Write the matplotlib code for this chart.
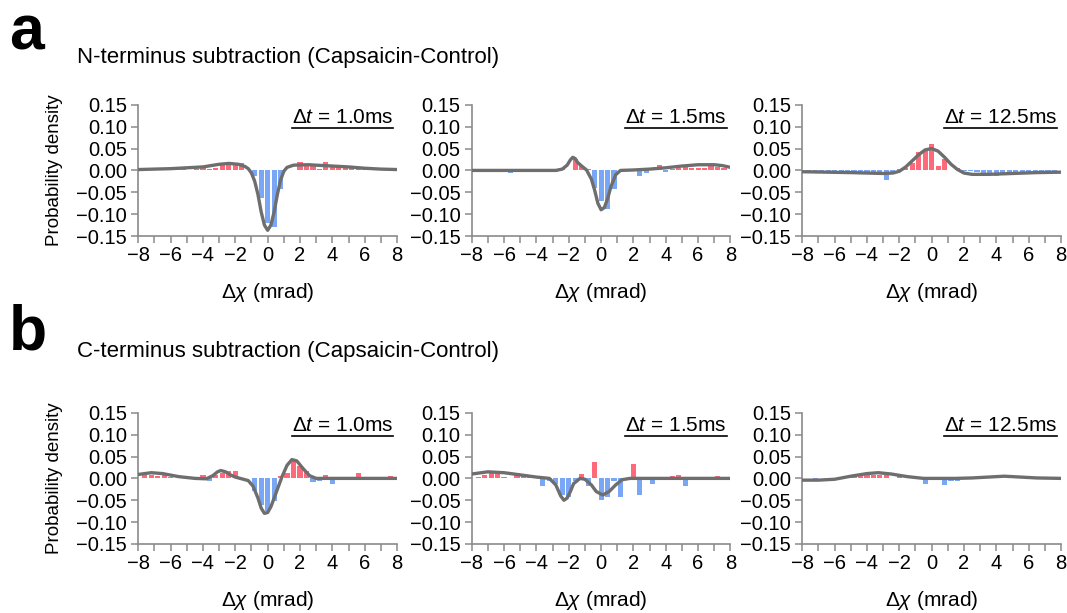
import numpy as np
import matplotlib
matplotlib.use("Agg")
import matplotlib.pyplot as plt
from matplotlib.lines import Line2D

plt.rcParams['font.family'] = ['Liberation Sans', 'DejaVu Sans']
plt.rcParams['mathtext.fontset'] = 'custom'
plt.rcParams['mathtext.rm'] = 'Liberation Sans'
plt.rcParams['mathtext.it'] = 'Liberation Sans:italic'
plt.rcParams['axes.unicode_minus'] = True

# bin centres (mrad)
centers = [round(0.4 * k, 1) for k in range(-19, 20)]

# histogram differences, one list per panel (39 bins each)
n_10 = [0.001, 0.002, 0.002, 0.003, 0.003, 0.004, 0.003, 0.002, 0.004, 0.005,
        0.004, 0.006, 0.013, 0.014, 0.014, 0.018, 0.0, -0.013, -0.062, -0.12,
        -0.13, -0.042, 0.002, 0.002, 0.02, 0.012, 0.009, 0.003, 0.019, 0.012,
        0.01, 0.006, 0.006, 0.004, 0.003, 0.003, 0.002, 0.002, 0.001]
n_15 = [0.0, 0.0, 0.0, 0.0, 0.0, -0.005, 0.0, 0.0, 0.0, 0.0,
        0.0, 0.0, -0.004, 0.006, 0.0, 0.025, 0.01, 0.004, -0.04, -0.07,
        -0.088, -0.043, 0.0, 0.002, 0.0, -0.012, -0.005, 0.0, 0.012, -0.003,
        0.004, 0.006, 0.008, 0.006, 0.005, 0.005, 0.01, 0.008, 0.006]
n_125 = [-0.002, -0.003, -0.002, -0.003, -0.004, -0.003, -0.004, -0.005, -0.004, -0.005,
         -0.004, -0.005, -0.021, -0.006, 0.003, 0.006, 0.018, 0.042, 0.046, 0.061,
         0.011, 0.025, 0.0, 0.006, -0.002, -0.002, -0.003, -0.008, -0.008, -0.012,
         -0.008, -0.007, -0.007, -0.007, -0.006, -0.006, -0.004, -0.003, -0.003]
c_10 = [0.011, 0.008, 0.006, 0.008, 0.004, 0.001, 0.001, 0.001, 0.001, 0.008,
        -0.006, 0.008, 0.012, 0.018, 0.017, 0.0, 0.0, -0.028, -0.06, -0.074,
        -0.052, 0.005, 0.012, 0.045, 0.028, 0.016, -0.008, -0.005, 0.008, -0.012,
        0.003, 0.002, -0.004, 0.012, 0.002, -0.002, 0.001, 0.001, 0.005]
c_15 = [0.004, 0.008, 0.012, 0.013, 0.003, 0.002, 0.013, 0.008, 0.006, 0.0,
        -0.018, -0.006, -0.012, -0.038, -0.042, -0.005, 0.01, -0.018, 0.037, -0.05,
        -0.042, -0.005, -0.042, -0.004, 0.034, -0.037, -0.002, -0.012, 0.002, 0.002,
        0.005, 0.008, -0.018, 0.0, 0.002, 0.004, 0.003, 0.006, 0.004]
c_125 = [0.0, -0.002, 0.0, 0.0, 0.0, 0.0, 0.0, 0.003, 0.008, 0.007,
         0.007, 0.007, 0.008, 0.0, 0.006, 0.0, 0.0, 0.0, -0.013, 0.0,
         0.0, -0.015, -0.005, -0.005, 0.0, 0.003, 0.0, 0.0, 0.0, 0.002,
         0.002, 0.0, 0.0, 0.0, 0.0, 0.0, 0.0, 0.0, 0.0]

# fitted curves (x, y)
n_10_fx = [-8, -6, -4, -3, -2.4, -1.8, -1.4, -1.2, -1.0, -0.8, -0.6, -0.4, -0.2, 0.0,
           0.2, 0.4, 0.6, 0.8, 1.0, 1.2, 1.6, 2.5, 4, 5, 6, 7, 8]
n_10_fy = [0.002, 0.004, 0.008, 0.014, 0.016, 0.014, 0.009, 0.004, -0.006, -0.025,
           -0.055, -0.095, -0.125, -0.137, -0.125, -0.095, -0.055, -0.022, -0.002,
           0.007, 0.012, 0.013, 0.01, 0.008, 0.005, 0.003, 0.002]
n_15_fx = [-8, -2.8, -2.4, -2.1, -1.9, -1.75, -1.6, -1.45, -1.2, -0.9, -0.6, -0.4,
           -0.2, 0.0, 0.2, 0.4, 0.6, 0.9, 1.2, 2, 3, 4, 5, 6, 7, 7.5, 8]
n_15_fy = [0.0, 0.0, 0.003, 0.012, 0.024, 0.03, 0.027, 0.018, 0.01, 0.001, -0.02,
           -0.045, -0.075, -0.09, -0.085, -0.065, -0.038, -0.01, 0.0, 0.001, 0.003,
           0.006, 0.01, 0.013, 0.013, 0.011, 0.007]
n_125_fx = [-8, -5, -3, -2.4, -2.0, -1.6, -1.2, -0.8, -0.4, 0.0, 0.4, 0.8, 1.2,
            1.6, 2.0, 2.5, 3.5, 5, 6.5, 8]
n_125_fy = [-0.003, -0.005, -0.007, -0.006, -0.002, 0.008, 0.022, 0.036, 0.047,
            0.05, 0.044, 0.03, 0.014, 0.002, -0.006, -0.009, -0.009, -0.007,
            -0.005, -0.004]
c_10_fx = [-8, -7.2, -6.5, -5.5, -4.5, -3.8, -3.4, -3.1, -2.9, -2.6, -2.3, -2.0,
           -1.6, -1.2, -0.9, -0.6, -0.4, -0.2, 0.0, 0.2, 0.4, 0.6, 0.9, 1.2, 1.5,
           1.8, 2.2, 2.6, 3.0, 4, 8]
c_10_fy = [0.009, 0.013, 0.011, 0.004, 0.0, -0.001, 0.006, 0.015, 0.018, 0.015,
           0.008, 0.003, -0.001, -0.005, -0.018, -0.045, -0.068, -0.08, -0.078,
           -0.065, -0.045, -0.025, 0.005, 0.03, 0.043, 0.04, 0.022, 0.006, 0.0,
           0.0, 0.0]
c_15_fx = [-8, -7, -6, -5, -4, -3.2, -2.8, -2.5, -2.3, -2.1, -1.9, -1.7, -1.3,
           -1.0, -0.6, -0.3, 0.1, 0.5, 0.9, 1.3, 1.8, 8]
c_15_fy = [0.01, 0.015, 0.013, 0.008, 0.003, 0.0, -0.015, -0.04, -0.05, -0.045,
           -0.03, -0.012, 0.0, -0.002, -0.015, -0.03, -0.038, -0.03, -0.015,
           -0.003, 0.0, 0.0]
c_125_fx = [-8, -7, -6, -5, -4, -3.3, -2.5, -1.5, -0.5, 0.5, 1.5, 2.5, 3.5,
            4.5, 5.5, 6.5, 8]
c_125_fy = [-0.004, -0.004, -0.002, 0.005, 0.011, 0.013, 0.01, 0.004, 0.0, 0.0,
            0.0, 0.001, 0.003, 0.005, 0.003, 0.001, 0.0]

labels = ['1.0', '1.5', '12.5']
rows = [
    [(n_10, n_10_fx, n_10_fy), (n_15, n_15_fx, n_15_fy), (n_125, n_125_fx, n_125_fy)],
    [(c_10, c_10_fx, c_10_fy), (c_15, c_15_fx, c_15_fy), (c_125, c_125_fx, c_125_fy)],
]

RED = '#ff5a6c'
BLUE = '#6a9ef4'
GREY = '#8a8a8a'

fig = plt.figure(figsize=(10.67, 6.13), dpi=100)

lefts = [0.1296, 0.4421, 0.7519]
bottoms = [0.6150, 0.1126]
w, h = 0.2425, 0.2140

dt_texts = []
for r, row in enumerate(rows):
    for c, (vals, fx, fy) in enumerate(row):
        ax = fig.add_axes([lefts[c], bottoms[r], w, h])
        cols = [RED if v > 0 else BLUE for v in vals]
        ax.bar(centers, vals, width=0.32, color=cols, alpha=0.9, zorder=2)
        ax.plot(fx, fy, color='#6e6e6e', lw=2.4, zorder=3)
        ax.set_xlim(-8, 8)
        ax.set_ylim(-0.15, 0.15)
        ax.set_xticks(range(-8, 9, 2))
        ax.set_xticks(range(-8, 9, 1), minor=True)
        yt = [-0.15, -0.10, -0.05, 0.0, 0.05, 0.10, 0.15]
        ax.set_yticks(yt)
        ax.set_yticklabels([f'{t:.2f}'.replace('-', '\u2212') for t in yt])
        for s in ['top', 'right']:
            ax.spines[s].set_visible(False)
        for s in ['left', 'bottom']:
            ax.spines[s].set_color(GREY)
            ax.spines[s].set_linewidth(1.2)
        ax.tick_params(which='both', direction='out', color=GREY, width=1.1,
                       labelsize=14.5, pad=2, length=5)
        ax.tick_params(axis='y', pad=3)
        ax.set_xlabel(r'$\Delta\chi$ (mrad)', fontsize=15, labelpad=12)
        if c == 0:
            ax.set_ylabel('Probability density', fontsize=13.5, labelpad=10)
        t = ax.text(0.985, 0.905, r'$\Delta t$ = %sms' % labels[c],
                    transform=ax.transAxes, ha='right', va='center', fontsize=15)
        dt_texts.append(t)

fig.text(9 / 1067, 1 - 50 / 613, 'a', fontsize=45, fontweight='bold',
         ha='left', va='baseline')
fig.text(77 / 1067, 1 - 63 / 613, 'N-terminus subtraction (Capsaicin-Control)',
         fontsize=16, ha='left', va='baseline')
fig.text(9 / 1067, 1 - 350 / 613, 'b', fontsize=45, fontweight='bold',
         ha='left', va='baseline')
fig.text(77 / 1067, 1 - 357 / 613, 'C-terminus subtraction (Capsaicin-Control)',
         fontsize=16, ha='left', va='baseline')

# underline the delta-t labels
fig.canvas.draw()
inv = fig.transFigure.inverted()
for t in dt_texts:
    bb = t.get_window_extent().transformed(inv)
    y = bb.y0 - 1.0 / 613
    fig.add_artist(Line2D([bb.x0, bb.x1], [y, y], transform=fig.transFigure,
                          color='black', lw=1.2))

fig.savefig('out.png', dpi=100)
plt.close(fig)
